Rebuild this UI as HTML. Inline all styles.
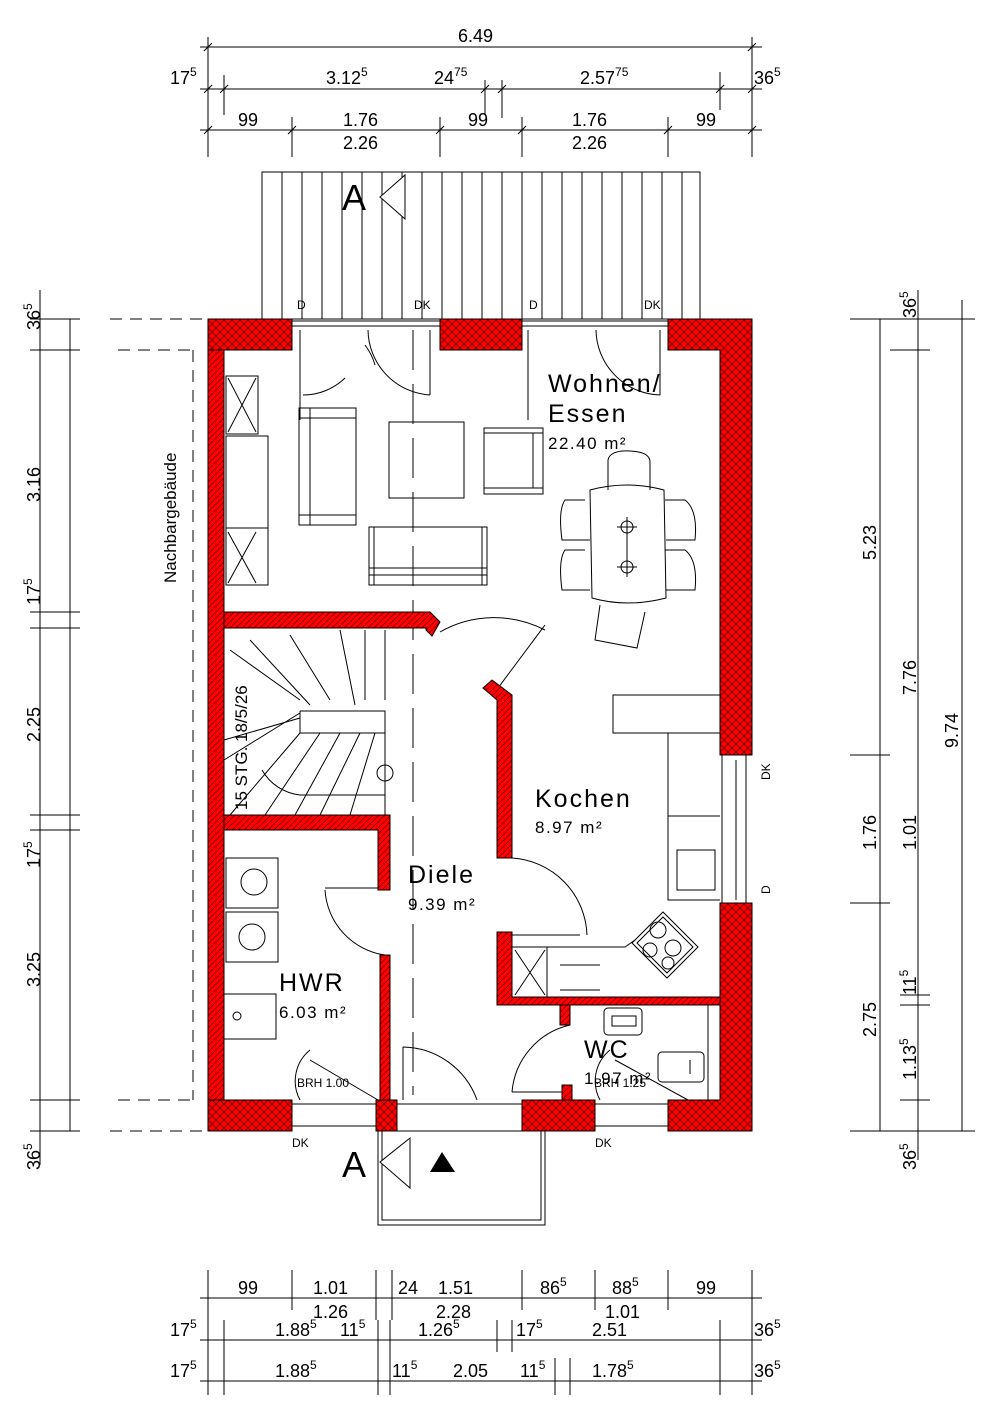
<!DOCTYPE html>
<html><head><meta charset="utf-8"><style>
html,body{margin:0;padding:0;background:#fff}
svg{display:block}
text{font-family:"Liberation Sans",sans-serif;fill:#000}
</style></head><body>
<svg width="1000" height="1420" viewBox="0 0 1000 1420" xmlns="http://www.w3.org/2000/svg">
<defs>
<pattern id="x" width="8" height="8" patternUnits="userSpaceOnUse">
<rect width="8" height="8" fill="#f00"/><path d="M0 0L8 8M8 0L0 8" stroke="#600" stroke-width="0.8"/></pattern>
<pattern id="h" width="6" height="6" patternUnits="userSpaceOnUse">
<rect width="6" height="6" fill="#f00"/><path d="M0 6L6 0M-1 1L1 -1M5 7L7 5" stroke="#600" stroke-width="0.7"/></pattern>
</defs>
<g stroke="#000" stroke-width="1" fill="none">
<!-- top dims -->
<path d="M200 47H762M208 37V157M752 37V157M200 89H762M224 75V115M485 80V115M502 80V118M720 72V110M200 130H762M292 117V157M440 117V157M522 117V157M668 117V157"/>
<path d="M204 51l8-8M748 51l8-8M204 93l8-8M220 93l8-8M481 93l8-8M498 93l8-8M716 93l8-8M748 93l8-8M204 134l8-8M288 134l8-8M436 134l8-8M518 134l8-8M664 134l8-8M748 134l8-8"/>
<!-- terrace -->
<rect x="262" y="172" width="438" height="147"/>
<path d="M282 172V319M302 172V319M322 172V319M342 172V319M362 172V319M382 172V319M402 172V319M422 172V319M442 172V319M462 172V319M482 172V319M502 172V319M522 172V319M542 172V319M562 172V319M582 172V319M602 172V319M622 172V319M642 172V319M662 172V319M682 172V319"/>
<path d="M380 197L405 175V219Z" fill="#fff"/>
<!-- neighbor -->
<path d="M110 319H208M118 350H193M193 350V1100M118 1100H193M110 1131H208" stroke-dasharray="12 8"/>
<!-- left dims -->
<path d="M40 290V1165M70 319V1131M30 319H80M30 350H80M30 612H80M30 628H80M30 815H80M30 830H80M30 1100H80M30 1131H80"/>
<!-- right dims -->
<path d="M880 319V1131M918 290V1160M962 300V1131M850 319H975M850 1131H975M850 755H890M850 903H890M890 350H930M900 995H930M900 1005H930M900 1100H930"/>
<!-- bottom dims -->
<path d="M200 1298H762M200 1340H762M200 1381H762M208 1270V1395M752 1270V1395M292 1270V1310M376 1270V1320M392 1270V1320M522 1270V1310M595 1270V1310M668 1270V1310M224 1320V1395M378 1320V1395M390 1320V1395M497 1320V1352M512 1320V1352M720 1320V1395M555 1358V1395M570 1358V1395"/>
<!-- entry canopy -->
<rect x="378" y="1131" width="167" height="94"/><rect x="382" y="1131" width="159" height="89"/>
<path d="M380 1162L410 1138V1188Z" fill="#fff"/>
<!-- windows -->
<path d="M292 321H440M292 326H440M522 321H668M522 326H668M292 1104H376M292 1126H376M595 1104H668M595 1126H668M397 1104H522M722 755V903M746 755V903M736 760V900"/>
<!-- door swings top -->
<path d="M300 330V420M368 330A66 66 0 0 0 430 395M430 330V395M303 395A60 60 0 0 0 345 378M365 345A60 60 0 0 1 375 365M528 330V420M660 330V395M596 330A66 66 0 0 0 660 395"/>
<!-- axis dash -->
<path d="M413 330V1095" stroke-dasharray="40 14"/>
<!-- furniture -->
<rect x="299" y="408" width="57" height="117"/><path d="M299 418H356M299 515H356M310 408V525"/>
<rect x="389" y="422" width="75" height="76"/>
<rect x="484" y="428" width="59" height="66"/><path d="M484 433H543M484 488H543M533 433V488"/>
<rect x="369" y="527" width="118" height="58"/><path d="M369 568H487M369 575H487M374 527V585M482 527V585"/>
<rect x="226" y="376" width="32" height="58"/><path d="M228 378L256 432M256 378L228 432"/>
<rect x="226" y="436" width="42" height="92"/><rect x="226" y="528" width="42" height="57"/><path d="M228 532L256 583M256 532L228 583"/>
<path d="M590 490Q627 480 664 490L666 598Q627 608 592 598Z"/>
<path d="M608 490V460Q610 450 630 451Q650 452 650 462V490M585 500H565Q558 510 562 540H590M585 550H565Q558 560 562 590H590M665 500H685Q698 510 695 540H666M665 550H685Q698 560 695 590H666M600 605L595 640L637 648L645 612"/>
<circle cx="627" cy="527" r="6"/><circle cx="627" cy="567" r="6"/><path d="M627 517V577M617 527H637M617 567H637"/>
<!-- door swings -->
<path d="M440 632A110 110 0 0 1 545 630M545 625L498 688M512 858A80 80 0 0 1 587 935M512 935H580M390 888H325M325 890A70 70 0 0 0 385 955M512 1092H572M570 1025A75 75 0 0 0 512 1092M403 1047V1100M403 1047A80 80 0 0 1 477 1100M300 1100A40 40 0 0 1 310 1050M310 1060L378 1100M600 1100A40 40 0 0 1 610 1050M615 1060L688 1100"/>
<!-- stairs -->
<path d="M300 711H385V815M300 733H385M300 711V733M224 760L300 713M224 740L300 718M230 650L300 700M250 640L310 705M290 635L330 700M340 630L355 705M365 630V700M385 630V700M300 733L230 815M320 733L265 815M340 733L295 815M360 733L320 815M375 733L350 815M262 770A50 50 0 0 0 300 795H385"/>
<circle cx="385" cy="773" r="8"/>
<!-- kitchen -->
<rect x="613" y="695" width="107" height="38"/><path d="M668 733V900H720M668 816H720M677 850h38v40h-38z"/>
<path d="M632 943L663 912L698 947L667 978Z"/><path d="M637 943L663 917L693 947L667 973Z"/>
<circle cx="658" cy="930" r="8"/><circle cx="673" cy="948" r="8"/><circle cx="650" cy="950" r="7"/><circle cx="668" cy="963" r="6"/>
<path d="M512 947H625L635 940M512 997V947M547 947V997M515 950L545 995M545 950L515 995M560 965H600M560 990H600"/>
<!-- HWR -->
<rect x="226" y="858" width="52" height="50"/><circle cx="254" cy="882" r="13"/>
<rect x="226" y="912" width="52" height="50"/><circle cx="252" cy="937" r="13"/>
<rect x="224" y="994" width="52" height="45"/><circle cx="237" cy="1016" r="4"/>
<!-- WC -->
<rect x="604" y="1008" width="38" height="27" rx="4"/><path d="M612 1016h24v10h-24z"/>
<rect x="658" y="1052" width="46" height="30" rx="4"/><path d="M690 1060v14"/>
<path d="M708 1005V1100"/>
</g>
<!-- walls -->
<g stroke="#000" stroke-width="1">
<path d="M208 319H292V350H224V1100H292V1131H208Z" fill="url(#x)"/>
<rect x="208" y="319" width="84" height="31" fill="url(#x)"/>
<rect x="208" y="1100" width="84" height="31" fill="url(#x)"/>
<rect x="208" y="350" width="16" height="750" fill="url(#h)"/>
<rect x="440" y="319" width="82" height="31" fill="url(#x)"/>
<path d="M668 319H752V755H720V350H668Z" fill="url(#x)"/>
<path d="M720 903H752V1131H668V1100H720Z" fill="url(#x)"/>
<rect x="376" y="1100" width="21" height="31" fill="url(#x)"/>
<rect x="522" y="1100" width="73" height="31" fill="url(#x)"/>
<path d="M224 612H430L440 622L432 636L426 630V628H224Z" fill="url(#h)"/>
<path d="M483 688L492 680L512 695V858H497V700Z" fill="url(#h)"/>
<path d="M224 815H390V890H378V830H224Z" fill="url(#h)"/>
<rect x="380" y="955" width="10" height="145" fill="url(#h)"/>
<path d="M497 932H512V997H720V1005H497Z" fill="url(#h)"/>
<rect x="560" y="1005" width="10" height="20" fill="url(#h)"/>
<rect x="562" y="1085" width="10" height="15" fill="url(#h)"/>
</g>
<!-- text -->
<g font-size="18">
<text x="458" y="42">6.49</text>
<text x="170" y="84">17<tspan font-size="12" dy="-8">5</tspan></text>
<text x="326" y="84">3.12<tspan font-size="12" dy="-8">5</tspan></text>
<text x="434" y="84">24<tspan font-size="12" dy="-8">75</tspan></text>
<text x="580" y="84">2.57<tspan font-size="12" dy="-8">75</tspan></text>
<text x="754" y="84">36<tspan font-size="12" dy="-8">5</tspan></text>
<text x="238" y="126">99</text><text x="343" y="126">1.76</text><text x="468" y="126">99</text><text x="572" y="126">1.76</text><text x="696" y="126">99</text>
<text x="343" y="149">2.26</text><text x="572" y="149">2.26</text>
<text x="238" y="1294">99</text><text x="313" y="1294">1.01</text><text x="398" y="1294">24</text><text x="438" y="1294">1.51</text>
<text x="540" y="1294">86<tspan font-size="12" dy="-8">5</tspan></text><text x="612" y="1294">88<tspan font-size="12" dy="-8">5</tspan></text><text x="696" y="1294">99</text>
<text x="313" y="1318">1.26</text><text x="436" y="1318">2.28</text><text x="605" y="1318">1.01</text>
<text x="170" y="1336">17<tspan font-size="12" dy="-8">5</tspan></text><text x="275" y="1336">1.88<tspan font-size="12" dy="-8">5</tspan></text>
<text x="340" y="1336">11<tspan font-size="12" dy="-8">5</tspan></text><text x="418" y="1336">1.26<tspan font-size="12" dy="-8">5</tspan></text>
<text x="516" y="1336">17<tspan font-size="12" dy="-8">5</tspan></text><text x="592" y="1336">2.51</text>
<text x="754" y="1336">36<tspan font-size="12" dy="-8">5</tspan></text>
<text x="170" y="1377">17<tspan font-size="12" dy="-8">5</tspan></text><text x="275" y="1377">1.88<tspan font-size="12" dy="-8">5</tspan></text>
<text x="392" y="1377">11<tspan font-size="12" dy="-8">5</tspan></text><text x="453" y="1377">2.05</text>
<text x="520" y="1377">11<tspan font-size="12" dy="-8">5</tspan></text><text x="592" y="1377">1.78<tspan font-size="12" dy="-8">5</tspan></text>
<text x="754" y="1377">36<tspan font-size="12" dy="-8">5</tspan></text>
<g transform="rotate(-90)">
<text x="-330" y="40">36<tspan font-size="12" dy="-8">5</tspan></text>
<text x="-502" y="40">3.16</text>
<text x="-605" y="40">17<tspan font-size="12" dy="-8">5</tspan></text>
<text x="-742" y="40">2.25</text>
<text x="-868" y="40">17<tspan font-size="12" dy="-8">5</tspan></text>
<text x="-987" y="40">3.25</text>
<text x="-1170" y="40">36<tspan font-size="12" dy="-8">5</tspan></text>
<text x="-560" y="876">5.23</text>
<text x="-850" y="876">1.76</text>
<text x="-1037" y="876">2.75</text>
<text x="-318" y="916">36<tspan font-size="12" dy="-8">5</tspan></text>
<text x="-695" y="916">7.76</text>
<text x="-850" y="916">1.01</text>
<text x="-995" y="916">11<tspan font-size="12" dy="-8">5</tspan></text>
<text x="-1080" y="916">1.13<tspan font-size="12" dy="-8">5</tspan></text>
<text x="-1170" y="916">36<tspan font-size="12" dy="-8">5</tspan></text>
<text x="-748" y="958">9.74</text>
<text x="-583" y="176" font-size="17">Nachbargebäude</text>
<text x="-810" y="247" font-size="17">15 STG. 18/5/26</text>
<text x="-780" y="770" font-size="12">DK</text>
<text x="-894" y="770" font-size="12">D</text>
</g>
</g>
<text x="342" y="210" font-size="36">A</text>
<text x="342" y="1177" font-size="36">A</text>
<path d="M430 1172L442 1152L455 1172Z" fill="#000"/>
<g font-size="12">
<text x="297" y="309">D</text><text x="414" y="309">DK</text><text x="529" y="309">D</text><text x="644" y="309">DK</text>
<text x="292" y="1147">DK</text><text x="595" y="1147">DK</text>
<text x="297" y="1087">BRH 1.00</text><text x="594" y="1087">BRH 1.25</text>
</g>
<g font-size="25" letter-spacing="2">
<text x="548" y="392">Wohnen/</text><text x="548" y="422">Essen</text>
<text x="535" y="807">Kochen</text><text x="408" y="883">Diele</text>
<text x="279" y="991">HWR</text><text x="584" y="1058">WC</text>
</g>
<g font-size="17" letter-spacing="1.5">
<text x="548" y="449">22.40 m²</text><text x="535" y="833">8.97 m²</text>
<text x="408" y="910">9.39 m²</text><text x="279" y="1018">6.03 m²</text><text x="584" y="1084">1.97 m²</text>
</g>
</svg>
</body></html>
